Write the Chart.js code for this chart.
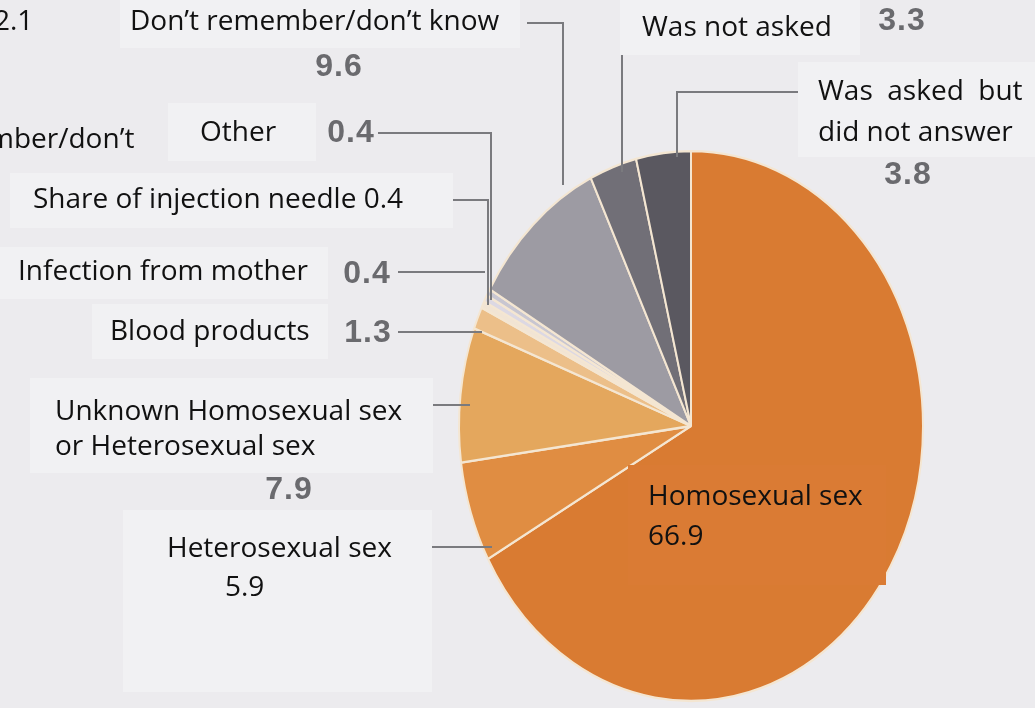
<!DOCTYPE html>
<html>
<head>
<meta charset="utf-8">
<script src="https://cdn.jsdelivr.net/npm/chart.js@4"></script>
<style>
  html, body { margin: 0; padding: 0; background: #ecebee; overflow: hidden; }
  canvas { display: block; }
</style>
</head>
<body>
<canvas id="chart" width="1035" height="708"></canvas>
<script>
// route of infection, share in %
const categories = [
  'Homosexual sex',
  'Heterosexual sex',
  'Unknown Homosexual sex or Heterosexual sex',
  'Blood products',
  'Infection from mother',
  'Share of injection needle',
  'Other',
  'Don’t remember/don’t know',
  'Was not asked',
  'Was asked but did not answer'
];
const shares = [66.9, 5.9, 7.9, 1.3, 0.4, 0.4, 0.4, 9.6, 3.3, 3.8];
const sliceColors = [
  '#d97b32', '#e08d42', '#e4a75d', '#ecbf89', '#f1e4d4',
  '#dcd8e3', '#c8c6d1', '#9d9ba3', '#716f77', '#5a5860'
];

// label boxes / leader lines (index = slice)
const labelLayout = [
  { i: 0, box: [628, 465, 258, 120], boxColor: '#da7b34', lines: [['Homosexual sex', 648, 497], ['66.9', 648, 537]] },
  { i: 1, box: [123, 510, 309, 182], lines: [['Heterosexual sex', 167, 549], ['5.9', 225, 588]], leader: [[432, 547], [492, 547]] },
  { i: 2, box: [30, 378, 403, 95], lines: [['Unknown Homosexual sex', 55, 412], ['or Heterosexual sex', 55, 447]], num: [289, 490], leader: [[433, 405], [470, 405]] },
  { i: 3, box: [92, 304, 236, 55], lines: [['Blood products', 110, 332]], num: [368, 333], leader: [[398, 332], [482, 332]] },
  { i: 4, box: [0, 247, 328, 52], lines: [['Infection from mother', 18, 272]], num: [367, 274], leader: [[398, 272], [485, 272]] },
  { i: 5, box: [10, 173, 443, 55], lines: [['Share of injection needle 0.4', 33, 200]], leader: [[453, 200], [488, 200], [488, 305]] },
  { i: 6, box: [168, 103, 148, 58], lines: [['Other', 200, 133]], num: [351, 133], leader: [[378, 133], [491, 133], [491, 300]] },
  { i: 7, box: [120, 0, 400, 48], lines: [['Don’t remember/don’t know', 130, 22]], num: [339, 67], leader: [[527, 23], [563, 23], [563, 185]] },
  { i: 8, box: [620, 0, 240, 55], lines: [['Was not asked', 642, 28]], num: [902, 21], leader: [[622, 55], [622, 172]] },
  { i: 9, box: [798, 62, 237, 95], lines: [['Was  asked  but', 818, 92], ['did not answer', 818, 133]], num: [908, 175], leader: [[798, 92], [677, 92], [677, 157]] }
];

const ellipseY = 1.185;

const ellipsePlugin = {
  id: 'ellipse',
  beforeDatasetsDraw(chart) {
    const a = chart.getDatasetMeta(0).data[0];
    const ctx = chart.ctx;
    ctx.save();
    ctx.translate(a.x, a.y);
    ctx.scale(1, ellipseY);
    ctx.translate(-a.x, -a.y);
  },
  afterDatasetsDraw(chart) {
    chart.ctx.restore();
  }
};

const labelPlugin = {
  id: 'labels',
  afterDraw(chart) {
    const ctx = chart.ctx;
    ctx.save();
    // leftover text from the original image
    ctx.fillStyle = '#111';
    ctx.font = '28px "Open Sans", sans-serif';
    ctx.textBaseline = 'middle';
    ctx.fillText('2.1', -6, 22);
    ctx.fillText('mber/don’t', -12, 140);

    labelLayout.forEach(l => {
      ctx.fillStyle = l.boxColor || '#f1f1f3';
      ctx.fillRect(l.box[0], l.box[1], l.box[2], l.box[3]);
    });
    ctx.strokeStyle = '#7a7a7e';
    ctx.lineWidth = 2;
    labelLayout.forEach(l => {
      if (!l.leader) return;
      ctx.beginPath();
      l.leader.forEach((p, k) => k ? ctx.lineTo(p[0], p[1]) : ctx.moveTo(p[0], p[1]));
      ctx.stroke();
    });
    labelLayout.forEach(l => {
      ctx.fillStyle = '#111';
      ctx.font = '28px "Open Sans", sans-serif';
      ctx.textAlign = 'left';
      ctx.letterSpacing = '0px';
      l.lines.forEach(t => ctx.fillText(t[0], t[1], t[2]));
      if (l.num) {
        ctx.fillStyle = '#6a6a6e';
        ctx.font = 'bold 32px "Liberation Sans", Arial, sans-serif';
        ctx.letterSpacing = '1px';
        ctx.textAlign = 'center';
        ctx.fillText(shares[l.i].toFixed(1), l.num[0], l.num[1]);
      }
    });
    ctx.restore();
  }
};

new Chart(document.getElementById('chart'), {
  type: 'pie',
  data: {
    labels: categories,
    datasets: [{
      data: shares,
      backgroundColor: sliceColors,
      borderColor: '#f4e6d2',
      borderWidth: 2,
      hoverOffset: 0,
      offset: 0
    }]
  },
  options: {
    responsive: false,
    animation: false,
    devicePixelRatio: 1,
    layout: { padding: { left: 458, right: 111, top: 193, bottom: 49 } },
    plugins: {
      legend: { display: false },
      tooltip: { enabled: false }
    }
  },
  plugins: [ellipsePlugin, labelPlugin]
});
</script>
</body>
</html>
